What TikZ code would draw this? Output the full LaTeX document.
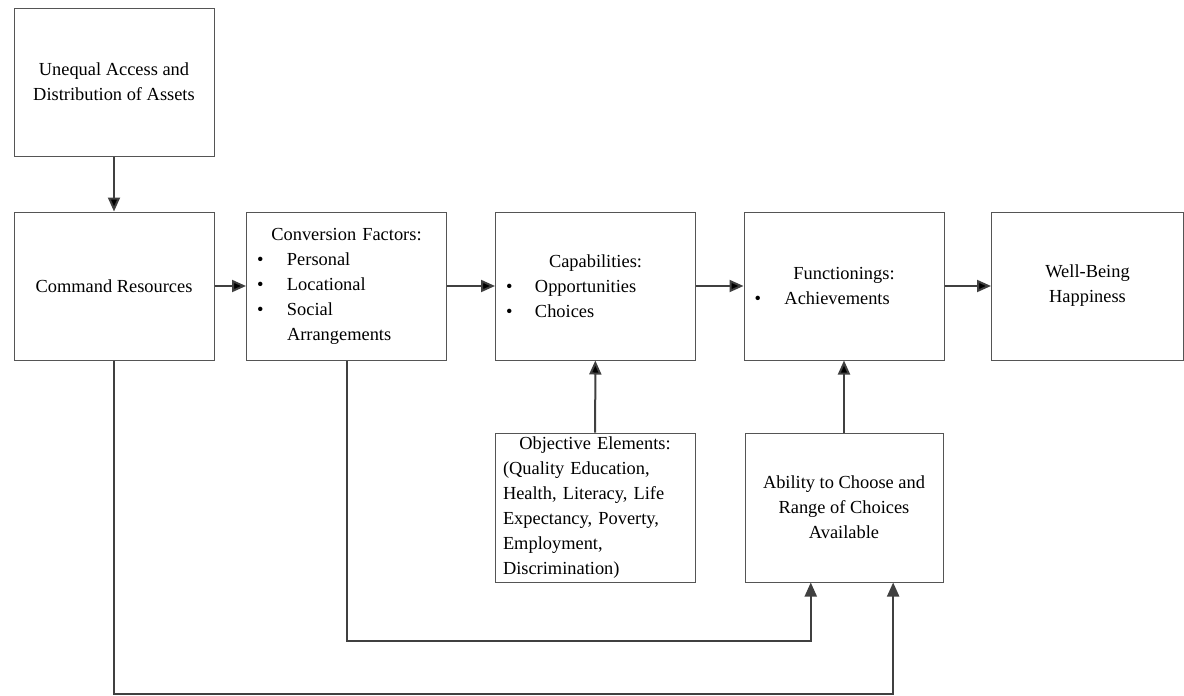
\documentclass[tikz,border=0pt]{standalone}
\usepackage{fontspec}
\setmainfont{Liberation Serif}
\usetikzlibrary{arrows.meta,calc}
\definecolor{linegray}{HTML}{404040}
\definecolor{boxgray}{HTML}{555555}
\newcommand{\bul}[1][14.5pt]{\makebox[#1][l]{\textbullet}}
\newcommand{\head}[1]{\makebox[\hsize][c]{#1}}

\begin{document}
\begin{tikzpicture}[x=0.5pt,y=-0.5pt,>={Triangle[length=7pt,width=6pt]},
    main node/.style={rectangle,draw=boxgray,line width=0.5pt,
      font=\fontsize{9.2}{12.5}\selectfont\frenchspacing,align=center,
      minimum height=74pt,minimum width=100pt,inner sep=0pt},
    list node/.style={main node,align=left,inner xsep=5pt,text width=89.5pt},
    arr/.style={->,draw=linegray,line width=1pt}]

    \useasboundingbox (0,0) rectangle (1184,696);

    \node[main node] (Assets) at (114,82) {Unequal Access and\\Distribution of Assets};
    \node[main node] (Command) at (114,286) {Command Resources};
    \node[list node] (Conversion) at (346.5,286)
      {\head{Conversion Factors:}\\ \bul[15pt]Personal\\ \bul[15pt]Locational\\
       \bul[15pt]Social\\ \hspace*{15pt}Arrangements};
    \node[list node] (Capab) at (595.5,286)
      {\head{Capabilities:}\\ \bul Opportunities\\ \bul Choices};
    \node[list node] (Function) at (844,286)
      {\head{Functionings:}\\ \bul[15pt]Achievements};
    \node[main node,minimum width=96pt] (Wellbeing) at (1087.5,286) {Well-Being\\Happiness};

    \node[list node,inner xsep=3.5pt,text width=92pt,minimum height=74.5pt] (Objective) at (595,507.5)
      {\head{Objective Elements:}\\ (Quality Education,\\ Health, Literacy, Life\\
       Expectancy, Poverty,\\ Employment,\\ Discrimination)};
    \node[main node,minimum width=99pt,minimum height=74.5pt] (Ability) at (844,507.5)
      {Ability to Choose and\\Range of Choices\\Available};

    \path[arr]
      (Assets) edge (Command)
      (Command) edge (Conversion)
      (Conversion) edge (Capab)
      (Capab) edge (Function)
      (Function) edge (Wellbeing)
      (Objective) edge (Capab)
      (Ability) edge (Function);

    % feedback lines into the ability box
    \draw[arr] (Conversion.south) -- ++(0,280) -| ($(Ability.south west)!.333!(Ability.south east)$);
    \draw[arr] (Command.south) -- ++(0,333) -| ($(Ability.south west)!.747!(Ability.south east)$);
\end{tikzpicture}
\end{document}
